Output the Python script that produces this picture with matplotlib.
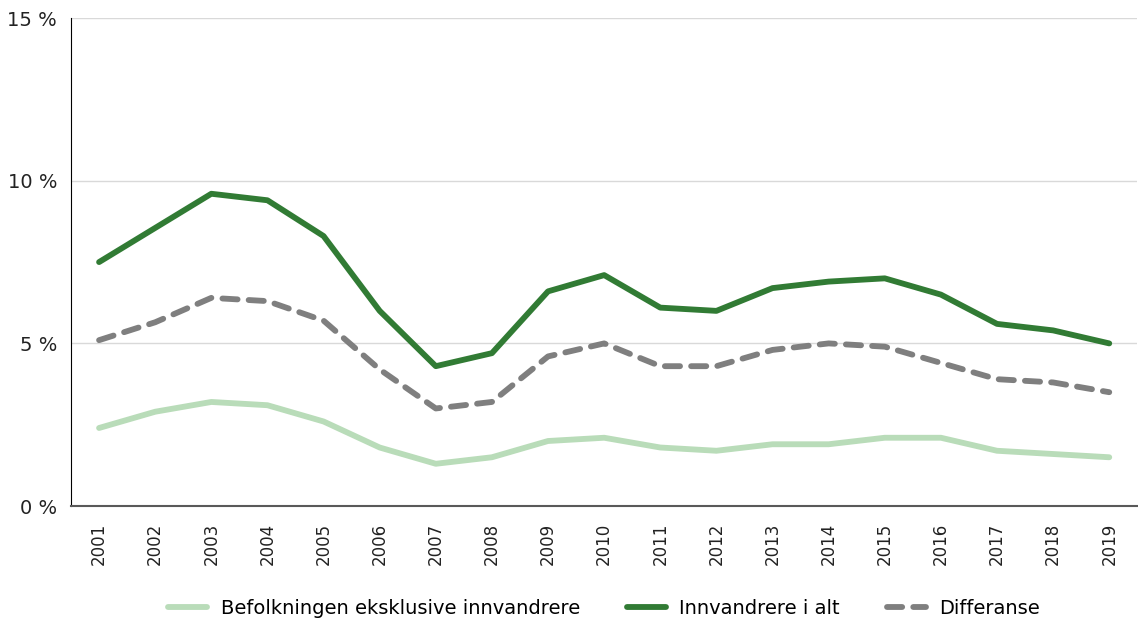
import numpy as np
import matplotlib.pyplot as plt
from matplotlib.ticker import FuncFormatter

##### DATA #####
years = [str(y) for y in range(2001, 2020)]
befolkning = [2.4, 2.9, 3.2, 3.1, 2.6, 1.8, 1.3, 1.5, 2.0, 2.1, 1.8, 1.7, 1.9, 1.9, 2.1, 2.1, 1.7, 1.6, 1.5]
innvandrere = [7.5, 8.55, 9.6, 9.4, 8.3, 6.0, 4.3, 4.7, 6.6, 7.1, 6.1, 6.0, 6.7, 6.9, 7.0, 6.5, 5.6, 5.4, 5.0]
differanse = [5.1, 5.65, 6.4, 6.3, 5.7, 4.2, 3.0, 3.2, 4.6, 5.0, 4.3, 4.3, 4.8, 5.0, 4.9, 4.4, 3.9, 3.8, 3.5]

plt.rcParams['font.family'] = 'DejaVu Sans'

fig = plt.figure(figsize=(11.38, 6.24), dpi=100)
ax = fig.add_axes([0.0624, 0.189, 0.937, 0.782])

x = np.arange(len(years))
ax.plot(x, befolkning, color='#b9dcb9', lw=4.2, solid_capstyle='round',
        solid_joinstyle='round', label='Befolkningen eksklusive innvandrere')
ax.plot(x, innvandrere, color='#317b34', lw=4.2, solid_capstyle='round',
        solid_joinstyle='round', label='Innvandrere i alt')
ax.plot(x, differanse, color='#7f7f7f', lw=4.2, ls=(0, (2.6, 1.9)),
        dash_capstyle='round', label='Differanse')

ax.set_xlim(-0.5, len(years) - 0.5)
ax.set_ylim(0, 15)
ax.set_yticks([0, 5, 10, 15])
ax.yaxis.set_major_formatter(FuncFormatter(lambda v, p: '%d %%' % v))
ax.set_xticks(x)
ax.set_xticklabels(years, rotation=90)
ax.tick_params(axis='both', length=0, colors='#222222')
ax.tick_params(axis='x', pad=12, labelsize=12)
ax.tick_params(axis='y', pad=10, labelsize=14)

ax.grid(axis='y', color='#d9d9d9', lw=1)
ax.set_axisbelow(True)
ax.spines['top'].set_visible(False)
ax.spines['right'].set_visible(False)
ax.spines['left'].set_color('black')
ax.spines['bottom'].set_color('#595959')
ax.spines['bottom'].set_linewidth(1.5)

ax.legend(loc='upper center', bbox_to_anchor=(0.5, -0.155), ncol=3, frameon=False,
          fontsize=14, handlelength=2.0, columnspacing=2.4, handletextpad=0.7)

fig.savefig('out.png', dpi=100)
